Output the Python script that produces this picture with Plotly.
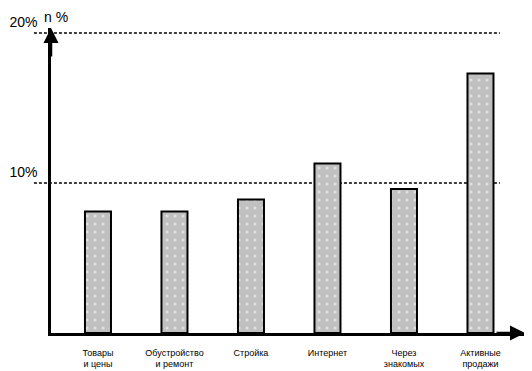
import plotly.graph_objects as go

categories = ["Товары<br>и цены", "Обустройство<br>и ремонт", "Стройка", "Интернет", "Через<br>знакомых", "Активные<br>продажи"]
values = [8.1, 8.1, 8.9, 11.3, 9.6, 17.3]
ref_levels = [10, 20]
ref_labels = ["10%", "20%"]
axis_title = "n %"

fig = go.Figure()
fig.add_trace(go.Bar(
    x=list(range(len(categories))),
    y=values,
    marker=dict(
        color="#c0c0c0",
        line=dict(color="black", width=2),
        pattern=dict(shape=".", fgcolor="white", bgcolor="#c0c0c0", size=8, solidity=0.12),
    ),
    hoverinfo="skip",
))

for lv in ref_levels:
    fig.add_shape(type="line", xref="paper", yref="y", x0=-0.036, x1=0.947, y0=lv, y1=lv,
                  line=dict(color="black", width=1.5, dash="3px,2px"), layer="below")

font = dict(family="Liberation Sans, Arial, sans-serif", color="black")

fig.update_layout(
    width=524, height=363,
    margin=dict(l=43, r=7, t=20, b=38, autoexpand=False),
    paper_bgcolor="white", plot_bgcolor="white",
    showlegend=False,
    bargap=0.66,
    xaxis=dict(
        range=[-0.614, 5.582], automargin=False,
        tickmode="array", tickvals=list(range(len(categories))), ticktext=categories,
        showline=True, linecolor="black", linewidth=2.5,
        showgrid=False, zeroline=False, ticks="",
        tickfont=dict(size=9, **font), ticklabelstandoff=9,
    ),
    yaxis=dict(
        range=[0, 20.33], automargin=False,
        tickmode="array", tickvals=ref_levels, ticktext=ref_labels,
        showline=True, linecolor="black", linewidth=2.5,
        showgrid=False, zeroline=False, ticks="",
        tickfont=dict(size=14, **font), ticklabelstandoff=8, ticklabelshift=-11,
    ),
    annotations=[
        dict(xref="paper", yref="paper", x=0, y=1, ax=0, ay=30, text="", showarrow=True,
             arrowhead=2, arrowsize=1.2, arrowwidth=2.5, arrowcolor="black", standoff=0),
        dict(xref="paper", yref="paper", x=1, y=0, ax=-30, ay=0, text="", showarrow=True,
             arrowhead=2, arrowsize=1.2, arrowwidth=2.5, arrowcolor="black", standoff=0),
        dict(xref="paper", yref="paper", x=-0.02, y=1, yshift=11, text=axis_title, showarrow=False,
             xanchor="left", yanchor="middle", font=dict(size=14, **font)),
    ],
)

fig.write_html("out.html")
